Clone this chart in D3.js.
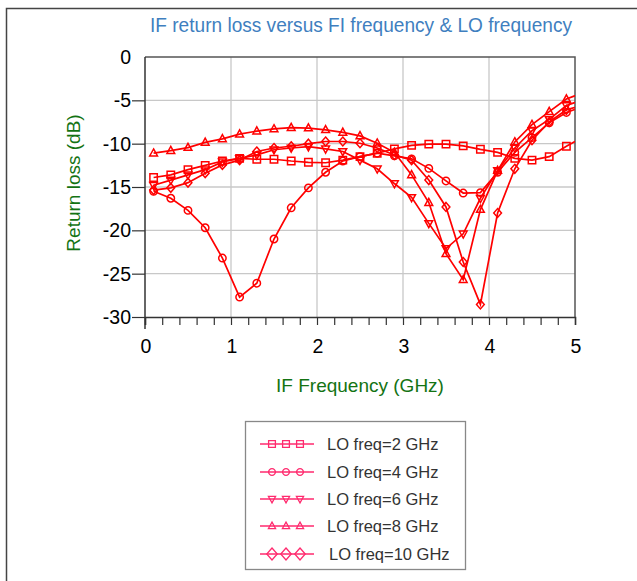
<!DOCTYPE html>
<html><head><meta charset="utf-8">
<script src="https://cdn.jsdelivr.net/npm/d3@7"></script>
<style>
html,body{margin:0;padding:0;background:#fff;}
svg{display:block;font-family:"Liberation Sans",Arial,sans-serif;}
</style></head>
<body>
<svg id="chart" width="637" height="581"></svg>
<script>
// ---- data ----
const freqs = [0.1,0.3,0.5,0.7,0.9,1.1,1.3,1.5,1.7,1.9,2.1,2.3,2.5,2.7,2.9,3.1,3.3,3.5,3.7,3.9,4.1,4.3,4.5,4.7,4.9,5.1];
const lo2  = [-13.9,-13.6,-13.0,-12.5,-12.0,-11.7,-11.8,-11.8,-12.0,-12.15,-12.2,-11.9,-11.5,-11.1,-10.6,-10.2,-10.05,-10.05,-10.25,-10.65,-11.0,-11.7,-11.9,-11.5,-10.3,-9.2];
const lo4  = [-15.5,-16.3,-17.7,-19.7,-23.2,-27.7,-26.1,-21.0,-17.4,-15.1,-13.3,-12.0,-11.5,-11.1,-11.4,-11.75,-12.85,-14.3,-15.7,-15.65,-13.3,-11.0,-9.3,-7.6,-6.4,-5.7];
const lo6  = [-14.8,-14.2,-13.6,-13.0,-12.1,-11.7,-11.3,-10.7,-10.5,-10.35,-10.6,-10.9,-11.9,-12.9,-14.6,-16.2,-19.2,-22.1,-20.4,-16.3,-13.1,-10.5,-8.5,-7.2,-5.6,-4.9];
const lo8  = [-11.1,-10.8,-10.45,-9.85,-9.45,-8.9,-8.55,-8.3,-8.15,-8.2,-8.4,-8.7,-9.1,-9.95,-11.0,-13.6,-16.8,-22.7,-25.7,-17.6,-13.1,-9.8,-7.8,-6.3,-4.85,-4.1];
const lo10 = [-15.35,-15.1,-14.5,-13.4,-12.45,-11.9,-10.9,-10.5,-10.3,-10.0,-9.75,-9.75,-9.95,-10.5,-11.3,-11.9,-14.2,-17.3,-23.65,-28.55,-18.0,-12.9,-9.6,-7.5,-6.1,-5.5];
const seriesNames = ["LO freq=2 GHz","LO freq=4 GHz","LO freq=6 GHz","LO freq=8 GHz","LO freq=10 GHz"];
const xTicks = [0,1,2,3,4,5];
const yTicks = [0,-5,-10,-15,-20,-25,-30];
const title = "IF return loss versus FI frequency & LO frequency";
const xTitle = "IF Frequency (GHz)";
const yTitle = "Return loss (dB)";

const seriesVals = [lo2, lo4, lo6, lo8, lo10];
const markerTypes = ["square","circle","tdown","tup","diamond"];

// ---- layout ----
const svg = d3.select("#chart");
const L = 145, R = 575, T = 57, B = 317;
const x = d3.scaleLinear().domain([0,5]).range([L,R]);
const y = d3.scaleLinear().domain([-30,0]).range([B,T]);

// outer frame
svg.append("path").attr("d","M6.5,581 L6.5,8.5 L637,8.5").attr("fill","none").attr("stroke","#444").attr("stroke-width",1.5);

// title
svg.append("text").attr("x",361).attr("y",32).attr("text-anchor","middle")
  .attr("font-size",19.5).attr("fill","#3f7fbf").attr("textLength",422).attr("lengthAdjust","spacingAndGlyphs").text(title);

// grid
const g = svg.append("g");
g.selectAll("line.gx").data([1,2,3,4]).enter().append("line")
  .attr("x1",d=>x(d)).attr("x2",d=>x(d)).attr("y1",T).attr("y2",B)
  .attr("stroke","#c8c8c8").attr("stroke-width",1.3);
g.selectAll("line.gy").data([-5,-10,-15,-20,-25]).enter().append("line")
  .attr("x1",L).attr("x2",R).attr("y1",d=>y(d)).attr("y2",d=>y(d))
  .attr("stroke","#c8c8c8").attr("stroke-width",1.3);

// frame top/right
svg.append("path").attr("d",`M${L},${T} L${R},${T} L${R},${B}`).attr("fill","none").attr("stroke","#555").attr("stroke-width",1.5);

// x axis
const xAxis = d3.axisBottom(x).tickValues(d3.range(0,5.01,0.2).map(v=>+v.toFixed(1))).tickSize(8).tickFormat("");
const xg = svg.append("g").attr("transform",`translate(0,${B})`).call(xAxis);
xg.select(".domain").attr("stroke","#333").attr("stroke-width",1.5);
xg.selectAll(".tick line").attr("stroke","#333").attr("stroke-width",1.2);
svg.append("line").attr("x1",L).attr("x2",L).attr("y1",B).attr("y2",B+12).attr("stroke","#333").attr("stroke-width",1.5);
svg.selectAll("text.xt").data(xTicks).enter().append("text")
  .attr("x",d=>x(d)+1).attr("y",353).attr("text-anchor","middle").attr("font-size",19.5).attr("fill","#000").text(d=>d);

// y axis
const yAxis = d3.axisLeft(y).tickValues(yTicks.filter(v=>v!==0)).tickSize(13).tickFormat("");
const yg = svg.append("g").attr("transform",`translate(${L},0)`).call(yAxis);
yg.select(".domain").attr("stroke","#333").attr("stroke-width",1.5).attr("d",`M0,${T}V${B}`);
yg.selectAll(".tick line").attr("stroke","#333").attr("stroke-width",1.2);
svg.selectAll("text.yt").data(yTicks).enter().append("text")
  .attr("x",131).attr("y",d=>y(d)+7).attr("text-anchor","end").attr("font-size",19.5).attr("fill","#000").text(d=>d);

// axis titles
svg.append("text").attr("x",360).attr("y",392).attr("text-anchor","middle").attr("font-size",19).attr("fill","#137313").text(xTitle);
svg.append("text").attr("transform","translate(80,183) rotate(-90)").attr("text-anchor","middle").attr("font-size",19).attr("fill","#137313").text(yTitle);

// markers
function markerPath(type, s){
  switch(type){
    case "square": return `M${-s},${-s}H${s}V${s}H${-s}Z`;
    case "circle": return `M${s},0A${s},${s} 0 1,1 ${-s},0A${s},${s} 0 1,1 ${s},0Z`;
    case "tup": return `M0,${-s*1.15}L${s*1.05},${s*0.75}L${-s*1.05},${s*0.75}Z`;
    case "tdown": return `M0,${s*1.15}L${s*1.05},${-s*0.75}L${-s*1.05},${-s*0.75}Z`;
    case "diamond": return `M0,${-s*1.2}L${s*1.05},0L0,${s*1.2}L${-s*1.05},0Z`;
  }
}

svg.append("clipPath").attr("id","clip").append("rect").attr("x",L).attr("y",T-10).attr("width",R-L).attr("height",B-T+20);
const plot = svg.append("g").attr("clip-path","url(#clip)");
const line = d3.line().x(d=>x(d[0])).y(d=>y(d[1]));
seriesVals.forEach((vals,i)=>{
  const pts = freqs.map((f,j)=>[f,vals[j]]);
  plot.append("path").datum(pts).attr("d",line).attr("fill","none").attr("stroke","#ff0000").attr("stroke-width",1.7);
  plot.selectAll(null).data(pts.filter(p=>p[0]<5)).enter().append("path")
    .attr("transform",p=>`translate(${x(p[0])},${y(p[1])})`)
    .attr("d",markerPath(markerTypes[i],3.7))
    .attr("fill","none").attr("stroke","#ff0000").attr("stroke-width",1.5);
});

// legend
const lg = svg.append("g");
lg.append("rect").attr("x",245.5).attr("y",421.5).attr("width",220).attr("height",148).attr("fill","#fff").attr("stroke","#888").attr("stroke-width",1.3);
const rowY = [444,472,499,526,554];
const lc = "#ff2a6e";
seriesNames.forEach((name,i)=>{
  const ry = rowY[i];
  lg.append("line").attr("x1",260).attr("x2",314).attr("y1",ry).attr("y2",ry).attr("stroke",lc).attr("stroke-width",1.5);
  [272,286,300].forEach(mx=>{
    lg.append("path").attr("transform",`translate(${mx},${ry})`)
      .attr("d",markerPath(markerTypes[i], i===4?5:3.4))
      .attr("fill","none").attr("stroke",lc).attr("stroke-width",1.3);
  });
  lg.append("text").attr("x",i===4?329:327).attr("y",ry+6).attr("font-size",16.5).attr("fill","#333").text(name);
});
</script>
</body></html>
